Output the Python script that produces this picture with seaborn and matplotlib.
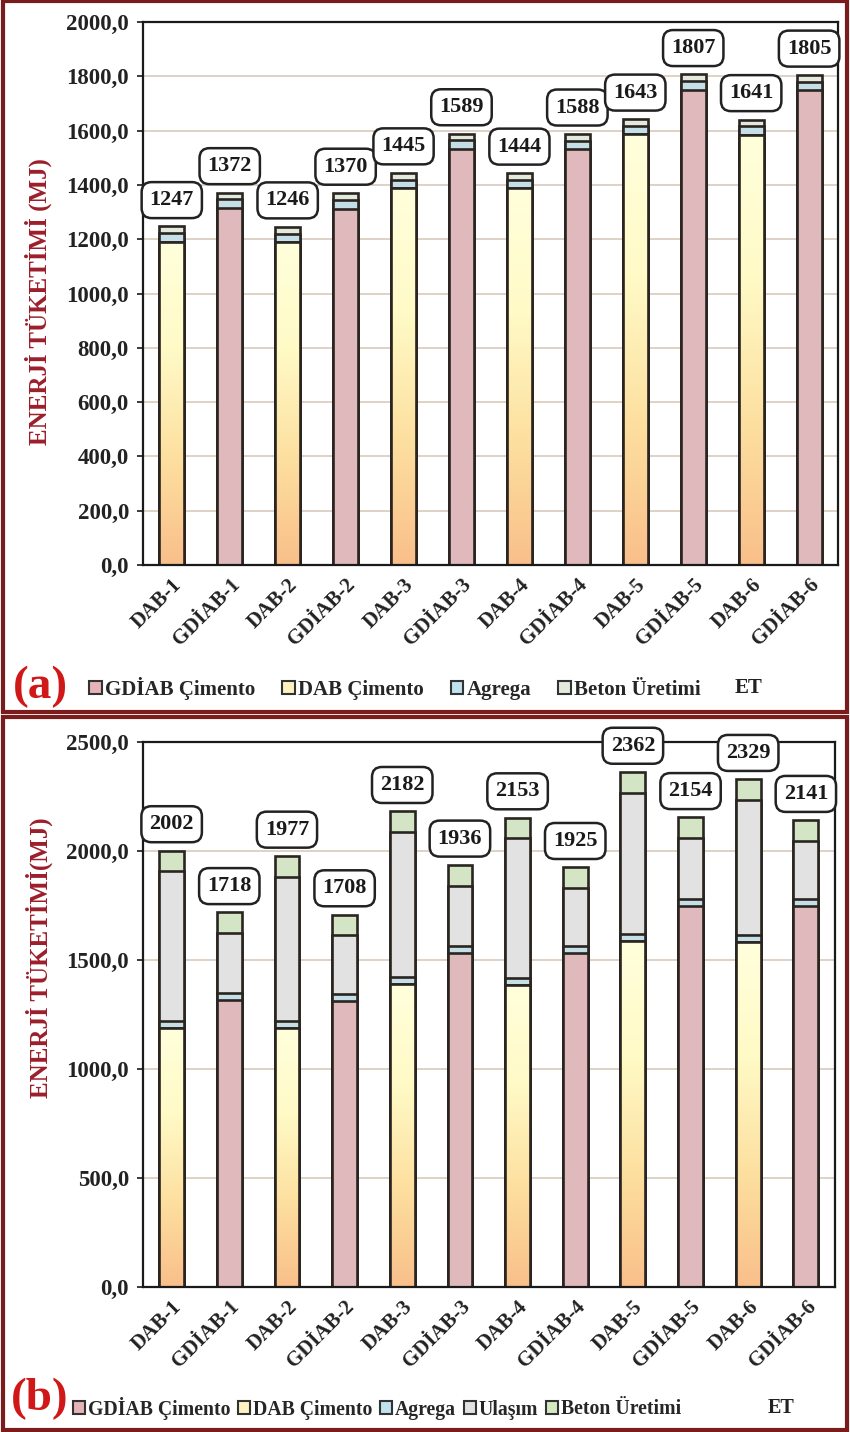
import numpy as np
import pandas as pd
import matplotlib
matplotlib.use("Agg")
import matplotlib.pyplot as plt
import seaborn as sns
from matplotlib.patches import Rectangle, Patch
from matplotlib.colors import LinearSegmentedColormap
from matplotlib.ticker import FuncFormatter, MultipleLocator

# -------------------------
# Data
# -------------------------
labels = ["DAB-1", "GDİAB-1", "DAB-2", "GDİAB-2", "DAB-3", "GDİAB-3",
          "DAB-4", "GDİAB-4", "DAB-5", "GDİAB-5", "DAB-6", "GDİAB-6"]
types = ["DAB", "GDİAB", "DAB", "GDİAB", "DAB", "GDİAB",
         "DAB", "GDİAB", "DAB", "GDİAB", "DAB", "GDİAB"]

cimento = [1190, 1315, 1189, 1313, 1388, 1532, 1387, 1531, 1586, 1750, 1584, 1748]

# panel (a)
agrega_a = [32, 32, 32, 32, 32, 32, 32, 32, 32, 32, 32, 32]
beton_a = [25, 25, 25, 25, 25, 25, 25, 25, 25, 25, 25, 25]
et_a = [1247, 1372, 1246, 1370, 1445, 1589, 1444, 1588, 1643, 1807, 1641, 1805]

# panel (b)
agrega_b = [32, 32, 32, 32, 32, 32, 32, 32, 32, 32, 32, 32]
ulasim_b = [685, 276, 661, 268, 667, 277, 639, 267, 649, 277, 618, 266]
beton_b = [95, 95, 95, 95, 95, 95, 95, 95, 95, 95, 95, 95]
et_b = [2002, 1718, 1977, 1708, 2182, 1936, 2153, 1925, 2362, 2154, 2329, 2141]

# -------------------------
# Style
# -------------------------
sns.set_theme(style="white")
plt.rcParams["font.family"] = ["Liberation Serif", "DejaVu Serif"]
plt.rcParams["font.weight"] = "bold"

EDGE = "#2a2520"
C_DAB = "#fde7a6"
C_GDIAB = "#e6b3b7"
C_AGREGA = "#bfe2ee"
C_ULASIM = "#e2e2e2"
C_BETON_A = "#e4ebdc"
C_BETON_B = "#d3eac0"
DARKRED = "#9c1f2a"
BAR_W = 0.43

cmap_dab = LinearSegmentedColormap.from_list("dab", ["#f9bf8a", "#fde0a0", "#fffac6", "#ffffdc"])
grad = np.linspace(0, 1, 256).reshape(-1, 1)


def fmt(v, pos):
    return f"{v:.1f}".replace(".", ",")


def draw_panel(ax, layers, et, ymax, ystep, ylabel, ylab_y):
    df = pd.DataFrame({"label": labels, "tip": types})
    tops = np.cumsum(np.array([vals for vals, _ in layers], dtype=float), axis=0)
    cement_patches = []
    # draw from the top of the stack down, each layer covers the previous one
    for k in range(len(layers) - 1, -1, -1):
        df["h"] = tops[k]
        color = layers[k][1]
        n0 = len(ax.patches)
        if isinstance(color, dict):
            sns.barplot(data=df, x="label", y="h", hue="tip", palette=color,
                        dodge=False, width=BAR_W, edgecolor=EDGE, linewidth=1.9,
                        legend=False, ax=ax)
            cement_patches = ax.patches[n0:]
        else:
            sns.barplot(data=df, x="label", y="h", color=color, width=BAR_W,
                        edgecolor=EDGE, linewidth=1.9, ax=ax)

    # gradient on DAB cement bars
    for p in cement_patches:
        idx = int(round(p.get_x() + p.get_width() / 2))
        if types[idx] != "DAB":
            continue
        x0, w, h = p.get_x(), p.get_width(), p.get_height()
        im = ax.imshow(grad, cmap=cmap_dab, origin="lower", aspect="auto",
                       extent=(x0, x0 + w, 0, h), zorder=1.2)
        im.set_clip_path(p)
        ax.add_patch(Rectangle((x0, 0), w, h, fill=False, edgecolor=EDGE,
                               lw=1.9, zorder=1.3))

    for i, v in enumerate(et):
        ax.annotate(str(v), (i, v), xytext=(0, 19), textcoords="offset points",
                    ha="center", va="center", fontsize=16, fontweight="bold",
                    color="#1a1a1a", zorder=5,
                    bbox=dict(boxstyle="round,pad=0.36,rounding_size=0.45",
                              fc="white", ec="#222222", lw=1.8))

    ax.set_xlim(-0.5, len(labels) - 0.5)
    ax.set_ylim(0, ymax)
    ax.yaxis.set_major_locator(MultipleLocator(ystep))
    ax.yaxis.set_major_formatter(FuncFormatter(fmt))
    ax.set_axisbelow(True)
    ax.yaxis.grid(True, color="#d9cbbd", lw=1.2)
    ax.xaxis.grid(False)
    for s in ax.spines.values():
        s.set_visible(True)
        s.set_color("#1a1a1a")
        s.set_linewidth(1.6)
    ax.tick_params(axis="y", labelsize=16.5, length=4, pad=6, colors="#222222", left=True)
    ax.tick_params(axis="x", labelsize=15, length=0, pad=7, colors="#222222")
    ax.set_xticks(range(len(labels)))
    ax.set_xticklabels(labels, rotation=45, ha="right", va="top",
                       rotation_mode="anchor", fontweight="bold")
    for t in ax.get_yticklabels():
        t.set_fontweight("bold")
    ax.set_xlabel("")
    ax.set_ylabel(ylabel, color=DARKRED, fontsize=18, fontweight="bold")
    ax.yaxis.set_label_coords(-0.13, ylab_y)


fig = plt.figure(figsize=(8.5, 14.32), dpi=100)

ax_a = fig.add_axes([0.168, 0.6054, 0.818, 0.3792])
draw_panel(ax_a,
           [(cimento, {"DAB": C_DAB, "GDİAB": C_GDIAB}),
            (agrega_a, C_AGREGA),
            (beton_a, C_BETON_A)],
           et_a, 2000, 200, "ENERJİ TÜKETİMİ (MJ)", 0.485)

ax_b = fig.add_axes([0.168, 0.1013, 0.814, 0.3805])
draw_panel(ax_b,
           [(cimento, {"DAB": C_DAB, "GDİAB": C_GDIAB}),
            (agrega_b, C_AGREGA),
            (ulasim_b, C_ULASIM),
            (beton_b, C_BETON_B)],
           et_b, 2500, 500, "ENERJİ TÜKETİMİ(MJ)", 0.605)


# legends (ET has no marker, placed as plain text)
def leg_handles(items):
    return [Patch(facecolor=c, edgecolor="#333333", lw=1.5, label=name) for name, c in items]


h_a = leg_handles([("GDİAB Çimento", C_GDIAB), ("DAB Çimento", "#fdf3c0"),
                   ("Agrega", C_AGREGA), ("Beton Üretimi", C_BETON_A)])
fig.legend(handles=h_a, loc="center left", bbox_to_anchor=(0.083, 1 - 688 / 1432),
           ncol=4, frameon=False, handlelength=0.6, handleheight=0.6,
           handletextpad=0.15, columnspacing=1.3,
           prop={"family": "Liberation Serif", "weight": "bold", "size": 15})
fig.text(735 / 850, 1 - 688 / 1432, "ET", ha="left", va="center",
         fontsize=15, fontweight="bold", color="#222222")

h_b = leg_handles([("GDİAB Çimento", C_GDIAB), ("DAB Çimento", "#fdf3c0"),
                   ("Agrega", C_AGREGA), ("Ulaşım", C_ULASIM),
                   ("Beton Üretimi", C_BETON_B)])
fig.legend(handles=h_b, loc="center left", bbox_to_anchor=(0.065, 1 - 1408 / 1432),
           ncol=5, frameon=False, handlelength=0.6, handleheight=0.6,
           handletextpad=0.15, columnspacing=0.4,
           prop={"family": "Liberation Serif", "weight": "bold", "size": 14.2})
fig.text(768 / 850, 1 - 1408 / 1432, "ET", ha="left", va="center",
         fontsize=14.5, fontweight="bold", color="#222222")

fig.text(0.047, 1 - 687 / 1432, "(a)", color="#d01818", fontsize=34,
         fontweight="bold", ha="center", va="center")
fig.text(0.047, 1 - 1399 / 1432, "(b)", color="#d01818", fontsize=34,
         fontweight="bold", ha="center", va="center")

# panel frames
fig.add_artist(Rectangle((0.003, 1 - 712 / 1432), 0.994, 712 / 1432 - 0.001,
                         transform=fig.transFigure, fill=False, ec="#7b1c1c", lw=3))
fig.add_artist(Rectangle((0.003, 0.0015), 0.994, 1 - 717 / 1432 - 0.0015,
                         transform=fig.transFigure, fill=False, ec="#7b1c1c", lw=3))

fig.savefig("out.png", dpi=100, facecolor="white")
